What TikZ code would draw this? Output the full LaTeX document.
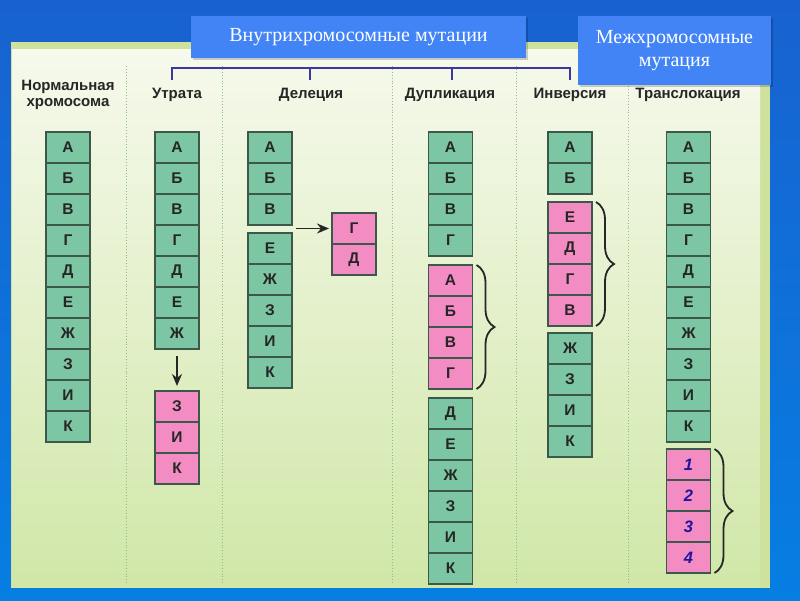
\documentclass[tikz,border=0pt]{standalone}
\usepackage{fontspec}
\setmainfont{Liberation Serif}
\newfontfamily\sansf{Liberation Sans}
\usetikzlibrary{decorations.pathreplacing,arrows.meta}
\definecolor{bgtop}{RGB}{24,98,208}
\definecolor{bgbot}{RGB}{6,126,226}
\definecolor{boxblue}{RGB}{66,132,246}
\definecolor{panelband}{RGB}{206,226,158}
\definecolor{paneltop}{RGB}{246,249,236}
\definecolor{panelbot}{RGB}{208,231,168}
\definecolor{cellg}{RGB}{124,198,164}
\definecolor{cellp}{RGB}{244,140,196}
\definecolor{cellb}{RGB}{60,88,74}
\definecolor{brline}{RGB}{58,58,158}
\definecolor{divider}{RGB}{140,190,140}
\definecolor{numblue}{RGB}{30,20,160}
\newcommand\chromcol[5]{%
  \foreach \t [count=\i] in {#5} {%
    \node[#4,anchor=north] (#1\i) at (#2,{#3+(\i-1)*31}) {\t};}}
\begin{document}
\begin{tikzpicture}[x=1pt,y=-1pt,
  cell/.style={draw=cellb,line width=1.3pt,minimum width=44pt,minimum height=31pt,
    inner sep=0pt,outer sep=0pt,font=\sansf\bfseries\fontsize{15.5}{15.5}\selectfont,text=black!85},
  gc/.style={cell,fill=cellg},
  pc/.style={cell,fill=cellp},
  nc/.style={cell,fill=cellp,font=\sansf\bfseries\itshape\fontsize{16.5}{16.5}\selectfont,text=numblue},
  hdr/.style={font=\sansf\bfseries\fontsize{15}{16}\selectfont,text=black!85,align=center,inner sep=0pt},
  tbox/.style={fill=boxblue,text=white,font=\fontsize{20}{23}\selectfont,align=center,inner sep=0pt},
  arr/.style={line width=1.6pt,draw=black!85,-{Stealth[length=12pt,width=10pt]}},
  br/.style={line width=1.8pt,draw=black!85,decorate,decoration={brace,amplitude=18pt}},
  divl/.style={draw=divider,line width=0.9pt,dotted}]
\useasboundingbox (0,0) rectangle (800,600);
% background
\shade[top color=bgtop,bottom color=bgbot] (0,0) rectangle (800,600);
% panel
\fill[panelband] (11,42) rectangle (770,588);
\shade[top color=paneltop,bottom color=panelbot] (12,49) rectangle (760,587);
% dividers
\foreach \x in {126.5,222,392,516,628} \draw[divl] (\x,66) -- (\x,585);
% bracket
\coordinate (k1) at (172,80);
\coordinate (k2) at (570,80);
\coordinate (k3) at (310,68);
\coordinate (k4) at (452,68);
\draw[brline,line width=1.3pt] (k1) |- (k2 |- k3) -- (k2);
\draw[brline,line width=1.3pt] (k3) -- ++(0,12);
\draw[brline,line width=1.3pt] (k4) -- ++(0,12);
% title boxes
\fill[black,opacity=0.18] (193,18) rectangle (528,60);
\node[tbox,minimum width=335pt,minimum height=42pt] (t1) at (358.5,37) {Внутрихромосомные мутации};
\fill[black,opacity=0.18] (580,18) rectangle (773,87);
\node[tbox,minimum width=193pt,minimum height=69pt] (t2) at (674.5,50.5) {Межхромосомные\\мутация};
% headers
\node[hdr] (h1) at (68,95) {Нормальная\\хромосома};
\node[hdr] (h2) at (177,95) {Утрата};
\node[hdr] (h3) at (311,95) {Делеция};
\node[hdr] (h4) at (450,95) {Дупликация};
\node[hdr] (h5) at (570,95) {Инверсия};
\node[hdr] (h6) at (688,95) {Транслокация};
% normal
\chromcol{n}{68}{132}{gc}{А,Б,В,Г,Д,Е,Ж,З,И,К}
% loss
\chromcol{u}{177}{132}{gc}{А,Б,В,Г,Д,Е,Ж}
\chromcol{uz}{177}{391}{pc}{З,И,К}
\draw[arr,shorten <=7pt,shorten >=5pt] (u7.south) -- (uz1.north);
% deletion
\chromcol{d}{270}{132}{gc}{А,Б,В}
\chromcol{de}{270}{233}{gc}{Е,Ж,З,И,К}
\chromcol{dg}{354}{213}{pc}{Г,Д}
\coordinate (ds) at (296,228.5);
\draw[arr,shorten >=3pt] (ds) -- (dg1.west);
% duplication
\chromcol{p}{450.5}{132}{gc}{А,Б,В,Г}
\chromcol{pp}{450.5}{265}{pc}{А,Б,В,Г}
\chromcol{pg}{450.5}{398}{gc}{Д,Е,Ж,З,И,К}
\draw[br] ([xshift=4pt]pp1.north east) -- ([xshift=4pt]pp4.south east);
% inversion
\chromcol{v}{570}{132}{gc}{А,Б}
\chromcol{vp}{570}{202}{pc}{Е,Д,Г,В}
\chromcol{vg}{570}{333}{gc}{Ж,З,И,К}
\draw[br] ([xshift=4pt]vp1.north east) -- ([xshift=4pt]vp4.south east);
% translocation
\chromcol{r}{688.5}{132}{gc}{А,Б,В,Г,Д,Е,Ж,З,И,К}
\chromcol{rn}{688.5}{449}{nc}{1,2,3,4}
\draw[br] ([xshift=4pt]rn1.north east) -- ([xshift=4pt]rn4.south east);
\end{tikzpicture}
\end{document}
